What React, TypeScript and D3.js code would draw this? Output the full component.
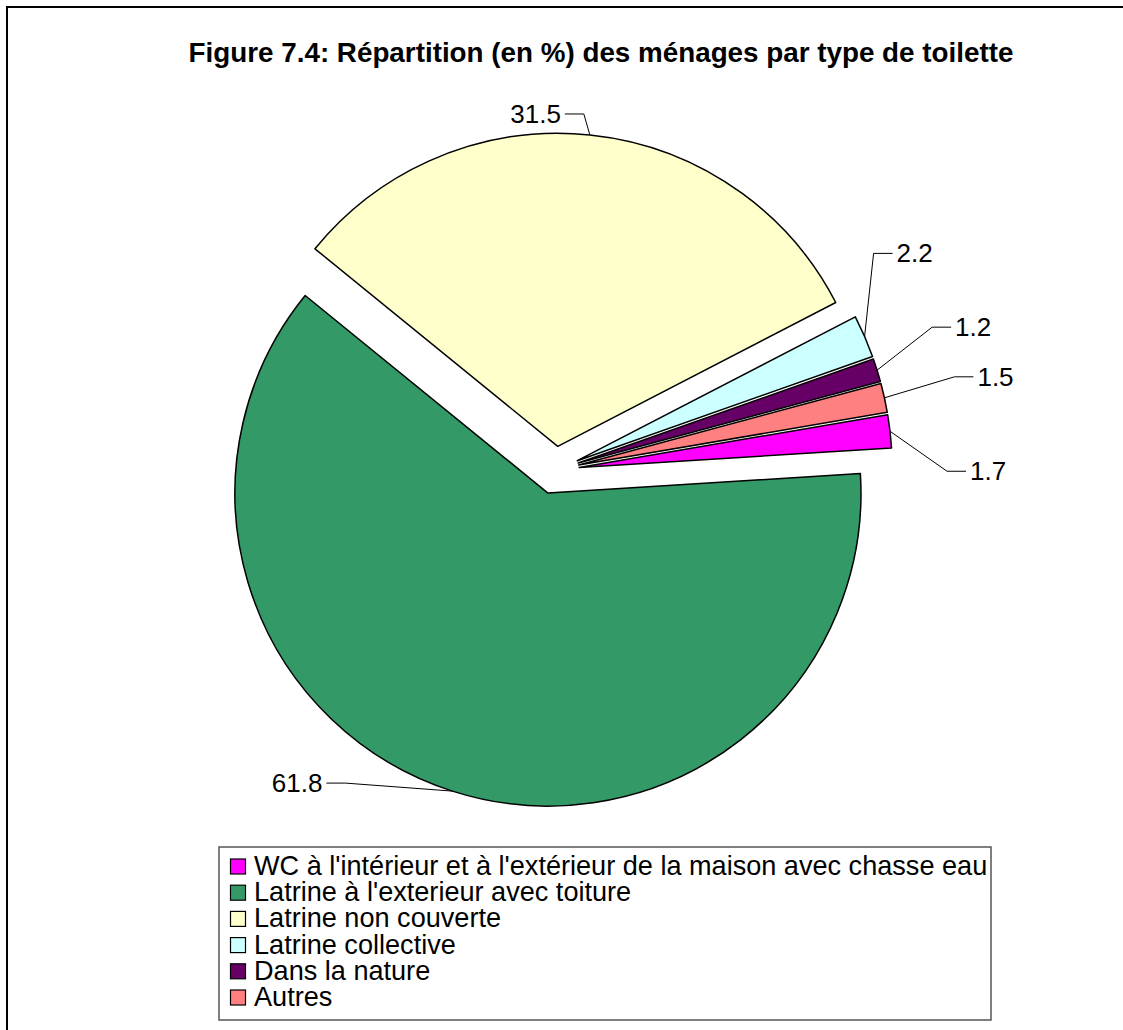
import React from "react";
import * as d3 from "d3";

const title = "Figure 7.4: Répartition (en %) des ménages par type de toilette";
const categories = [
  "WC à l'intérieur et à l'extérieur de la maison avec chasse eau",
  "Latrine à l'exterieur avec toiture",
  "Latrine non couverte",
  "Latrine collective",
  "Dans la nature",
  "Autres",
];
const values = [1.7, 61.8, 31.5, 2.2, 1.2, 1.5];
const colors = ["#FF00FF", "#339966", "#FFFFCC", "#CCFFFF", "#660066", "#FF8080"];

// label layout: elbow offset from arc point, side of text
const labelElbow: [number, number][] = [
  [57, 40],
  [-107, -8],
  [-6, -21],
  [9, -83],
  [55, -43],
  [70, -21],
];
const labelSide = [1, -1, -1, 1, 1, 1];

const W = 1123;
const H = 1030;
const cx = 555.3;
const cy = 470.2;
const R = 313;
const explode = 24;
const startDeg = 80.3;
const FONT = "'Liberation Sans', Arial, sans-serif";

export default function App() {
  const s = (startDeg * Math.PI) / 180;
  const pie = d3.pie<number>().sort(null).value((d) => d).startAngle(s).endAngle(s + 2 * Math.PI);
  const arcs = pie(values);
  const arcGen = d3.arc<d3.PieArcDatum<number>>().innerRadius(0).outerRadius(R);

  return (
    <svg
      width={W}
      height={H}
      style={{ position: "absolute", left: 0, top: 0, background: "#fff" }}
      fontFamily={FONT}
    >
      <rect x={7} y={7} width={W + 20} height={H + 20} fill="#fff" stroke="#000" strokeWidth={2} />
      <text x={601} y={62} textAnchor="middle" fontSize={27.8} fontWeight="bold" fill="#000">
        {title}
      </text>
      <g transform={`translate(${cx},${cy})`}>
        {arcs.map((a, i) => {
          const mid = (a.startAngle + a.endAngle) / 2;
          const ox = Math.sin(mid) * explode;
          const oy = -Math.cos(mid) * explode;
          return (
            <path
              key={i}
              d={arcGen(a) || ""}
              transform={`translate(${ox},${oy})`}
              fill={colors[i]}
              stroke="#000"
              strokeWidth={1.5}
              strokeLinejoin="round"
            />
          );
        })}
        {arcs.map((a, i) => {
          const mid = (a.startAngle + a.endAngle) / 2;
          const ax = Math.sin(mid) * (R + explode);
          const ay = -Math.cos(mid) * (R + explode);
          const ex = ax + labelElbow[i][0];
          const ey = ay + labelElbow[i][1];
          const side = labelSide[i];
          const hx = ex + side * 19;
          const tx = hx + side * 4;
          return (
            <g key={"l" + i}>
              <polyline
                points={`${ax},${ay} ${ex},${ey} ${hx},${ey}`}
                fill="none"
                stroke="#000"
                strokeWidth={1}
              />
              <text
                x={tx}
                y={ey + 9}
                textAnchor={side > 0 ? "start" : "end"}
                fontSize={26}
                fill="#000"
              >
                {values[i].toFixed(1)}
              </text>
            </g>
          );
        })}
      </g>
      <rect x={219} y={847} width={772} height={173} fill="#fff" stroke="#555" strokeWidth={1.5} />
      {categories.map((c, i) => {
        const by = 875 + i * 26.2;
        return (
          <g key={"lg" + i}>
            <rect x={230.5} y={by - 16} width={15} height={15} fill={colors[i]} stroke="#000" strokeWidth={1.2} />
            <text x={254} y={by} fontSize={27.1} fill="#000">
              {c}
            </text>
          </g>
        );
      })}
    </svg>
  );
}
